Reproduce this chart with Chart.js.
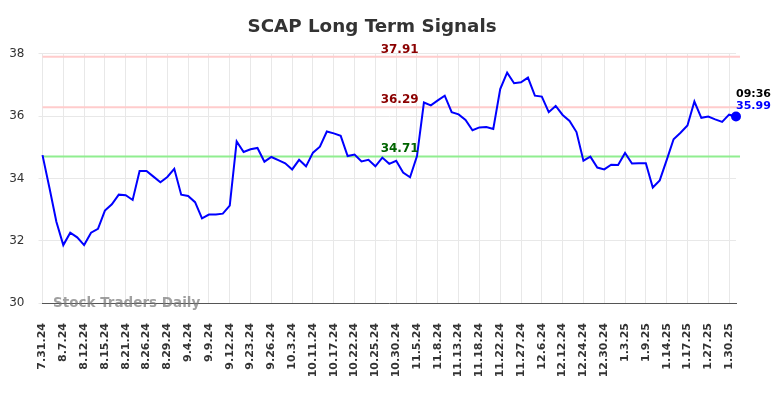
<!DOCTYPE html>
<html>
<head>
<meta charset="utf-8">
<script src="https://cdn.jsdelivr.net/npm/chart.js@4/dist/chart.umd.min.js"></script>
<style>
  html, body { margin: 0; padding: 0; background: #fff; }
  #wrap { width: 784px; height: 398px; }
</style>
</head>
<body>
<div id="wrap"><canvas id="chart" width="784" height="398"></canvas></div>
<script>
// dates (every third one is shown on the axis)
const dates = [
  "7.31.24","8.2.24","8.5.24","8.7.24","8.8.24","8.9.24","8.12.24","8.13.24","8.14.24","8.15.24",
  "8.16.24","8.19.24","8.21.24","8.22.24","8.23.24","8.26.24","8.27.24","8.28.24","8.29.24","8.30.24",
  "9.3.24","9.4.24","9.5.24","9.6.24","9.9.24","9.10.24","9.11.24","9.12.24","9.16.24","9.19.24",
  "9.23.24","9.24.24","9.25.24","9.26.24","9.27.24","10.1.24","10.3.24","10.7.24","10.9.24","10.11.24",
  "10.14.24","10.15.24","10.17.24","10.18.24","10.21.24","10.22.24","10.23.24","10.24.24","10.25.24","10.28.24",
  "10.29.24","10.30.24","10.31.24","11.4.24","11.5.24","11.6.24","11.7.24","11.8.24","11.11.24","11.12.24",
  "11.13.24","11.14.24","11.15.24","11.18.24","11.19.24","11.20.24","11.22.24","11.25.24","11.26.24","11.27.24",
  "12.2.24","12.4.24","12.6.24","12.9.24","12.10.24","12.12.24","12.16.24","12.19.24","12.24.24","12.26.24",
  "12.27.24","12.30.24","12.31.24","1.2.25","1.3.25","1.6.25","1.7.25","1.9.25","1.10.25","1.13.25",
  "1.14.25","1.15.25","1.16.25","1.17.25","1.21.25","1.23.25","1.27.25","1.28.25","1.29.25","1.30.25",
  "1.31.25"
];

const prices = [
  34.75,33.70,32.61,31.86,32.26,32.11,31.86,32.26,32.38,32.97,
  33.17,33.48,33.46,33.31,34.24,34.24,34.06,33.88,34.05,34.31,
  33.48,33.44,33.24,32.72,32.84,32.84,32.87,33.13,35.19,34.85,
  34.94,34.98,34.54,34.69,34.59,34.49,34.29,34.60,34.39,34.83,
  35.02,35.51,35.45,35.37,34.72,34.77,34.55,34.60,34.39,34.67,
  34.47,34.57,34.19,34.04,34.72,36.44,36.35,36.51,36.66,36.13,
  36.06,35.88,35.55,35.64,35.65,35.59,36.87,37.40,37.06,37.09,
  37.24,36.66,36.63,36.13,36.33,36.04,35.85,35.49,34.57,34.70,
  34.35,34.29,34.44,34.43,34.82,34.48,34.49,34.49,33.71,33.94,
  34.59,35.26,35.47,35.70,36.47,35.95,35.99,35.90,35.82,36.05,
  35.99
];

// signal levels
const levelValues = [37.91, 36.29, 34.71];
const levelKinds = ["resistance", "resistance", "support"];
const lastTime = "09:36";

const fontFamily = "'DejaVu Sans', sans-serif";

const levelsPlugin = {
  id: "levels",
  beforeDatasetsDraw(chart) {
    const { ctx, chartArea, scales } = chart;
    ctx.save();
    levelValues.forEach((v, i) => {
      const y = scales.y.getPixelForValue(v);
      ctx.strokeStyle = levelKinds[i] === "support" ? "#90ee90" : "#ffcccc";
      ctx.lineWidth = 2;
      ctx.beginPath();
      ctx.moveTo(chartArea.left, y);
      ctx.lineTo(chartArea.right + 4, y);
      ctx.stroke();
    });
    ctx.restore();
  },
  afterDatasetsDraw(chart) {
    const { ctx, chartArea, scales } = chart;
    ctx.save();
    ctx.font = "bold 12px " + fontFamily;
    ctx.textAlign = "center";
    ctx.textBaseline = "alphabetic";
    const midX = scales.x.getPixelForValue(51.5);
    levelValues.forEach((v, i) => {
      const y = scales.y.getPixelForValue(v);
      ctx.fillStyle = levelKinds[i] === "support" ? "#006400" : "#8b0000";
      ctx.fillText(v.toFixed(2), midX, y - 4);
    });

    // last point label
    const lastIdx = prices.length - 1;
    const px = scales.x.getPixelForValue(lastIdx);
    const py = scales.y.getPixelForValue(prices[lastIdx]);
    ctx.textAlign = "left";
    ctx.font = "bold 11px " + fontFamily;
    ctx.fillStyle = "#000";
    ctx.fillText(lastTime, px, py - 19.5);
    ctx.fillStyle = "#0000ff";
    ctx.fillText(prices[lastIdx].toFixed(2), px, py - 7.5);

    // watermark
    ctx.font = "bold 13.5px " + fontFamily;
    ctx.textBaseline = "middle";
    ctx.fillStyle = "rgba(120,120,120,0.7)";
    ctx.fillText("Stock Traders Daily", chartArea.left + 10.5, chartArea.bottom);
    ctx.restore();
  }
};

Chart.defaults.font.family = fontFamily;

const myChart = new Chart(document.getElementById("chart"), {
  type: "line",
  data: {
    labels: dates,
    datasets: [{
      data: prices,
      borderColor: "#0000ff",
      backgroundColor: "#0000ff",
      borderWidth: 2,
      tension: 0,
      pointRadius: prices.map((p, i) => i === prices.length - 1 ? 4 : 0),
      pointHoverRadius: 0
    }]
  },
  options: {
    responsive: false,
    animation: false,
    events: [],
    layout: { padding: { left: 8, right: 48, top: 0, bottom: 0 } },
    plugins: {
      legend: { display: false },
      tooltip: { enabled: false },
      title: {
        display: true,
        text: "SCAP Long Term Signals",
        color: "#333",
        font: { size: 18.3, weight: "bold" },
        padding: { top: 16, bottom: 16 }
      }
    },
    scales: {
      x: {
        grid: { color: "#e8e8e8", drawTicks: false },
        border: { color: "#555", width: 1 },
        afterFit: (scale) => { scale.height = 95; },
        ticks: {
          autoSkip: false,
          maxRotation: 90,
          minRotation: 90,
          padding: 20,
          color: "#333",
          font: { size: 11, weight: "bold" },
          callback: (val, i) => i % 3 === 0 ? dates[i] : null
        }
      },
      y: {
        min: 30,
        max: 38,
        afterFit: (scale) => { scale.width = 34.5; },
        grid: { color: "#e8e8e8", tickLength: 4 },
        border: { display: false },
        ticks: { stepSize: 2, color: "#333", font: { size: 12 }, padding: 14 }
      }
    }
  },
  plugins: [levelsPlugin]
});
</script>
</body>
</html>
